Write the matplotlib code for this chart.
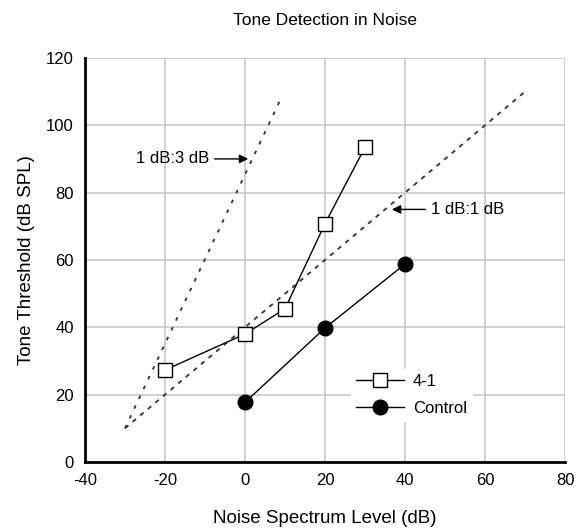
import matplotlib.pyplot as plt
import numpy as np

plt.rcParams['font.family'] = ['Liberation Sans', 'DejaVu Sans']
plt.rcParams['axes.unicode_minus'] = False

# 4-1 group
noise_41 = np.array([-20, 0, 10, 20, 30])
thresh_41 = np.array([27.3, 38, 45.5, 70.8, 93.5])

# control group
noise_ctl = np.array([0, 20, 40])
thresh_ctl = np.array([17.7, 39.8, 58.8])

# reference slopes
ref11_x = np.array([-30, 70])
ref11_y = np.array([10, 110])
ref13_x = np.array([-30, 9])
ref13_y = np.array([10, 108])

fig = plt.figure(figsize=(5.82, 5.31), dpi=100)
ax = fig.add_axes([0.146, 0.130, 0.825, 0.761])

ax.plot(ref13_x, ref13_y, color='#333333', linestyle=(0, (2, 4)), linewidth=1.3)
ax.plot(ref11_x, ref11_y, color='#333333', linestyle=(0, (2.5, 3)), linewidth=1.3)

ax.plot(noise_41, thresh_41, color='black', linewidth=1, marker='s', markersize=10.5,
        markerfacecolor='white', markeredgecolor='black', markeredgewidth=1, label='4-1')
ax.plot(noise_ctl, thresh_ctl, color='black', linewidth=1, marker='o', markersize=10.5,
        markerfacecolor='black', label='Control')

ax.annotate('1 dB:3 dB', xy=(0.8, 90), xytext=(-9, 90), fontsize=12, ha='right', va='center',
            arrowprops=dict(arrowstyle='-|>', color='black', lw=1, mutation_scale=13, shrinkA=2, shrinkB=0))
ax.annotate('1 dB:1 dB', xy=(36.7, 75), xytext=(46.5, 75), fontsize=12, ha='left', va='center',
            arrowprops=dict(arrowstyle='-|>', color='black', lw=1, mutation_scale=13, shrinkA=2, shrinkB=0))

ax.set_xlim(-40, 80)
ax.set_ylim(0, 120)
ax.set_xticks(np.arange(-40, 81, 20))
ax.set_yticks(np.arange(0, 121, 20))
ax.grid(True, color='#c8c8c8', linewidth=1.2)
ax.set_axisbelow(True)
ax.tick_params(length=0, labelsize=12, pad=8)
for s in ['top', 'right']:
    ax.spines[s].set_visible(False)
for s in ['left', 'bottom']:
    ax.spines[s].set_linewidth(2)

ax.set_title('Tone Detection in Noise', fontsize=12.5, pad=24)
ax.set_xlabel('Noise Spectrum Level (dB)', fontsize=13.5, labelpad=16)
ax.set_ylabel('Tone Threshold (dB SPL)', fontsize=13.5, labelpad=8)

leg = ax.legend(loc='center left', bbox_to_anchor=(0.537, 0.166), frameon=True, fontsize=12,
                handlelength=2.9, handletextpad=0.5, borderpad=0.3, labelspacing=0.7)
leg.get_frame().set_edgecolor('white')
leg.get_frame().set_facecolor('white')
leg.get_frame().set_alpha(1)
leg.get_frame().set_boxstyle('square', pad=0)

fig.savefig('out.png', dpi=100)
